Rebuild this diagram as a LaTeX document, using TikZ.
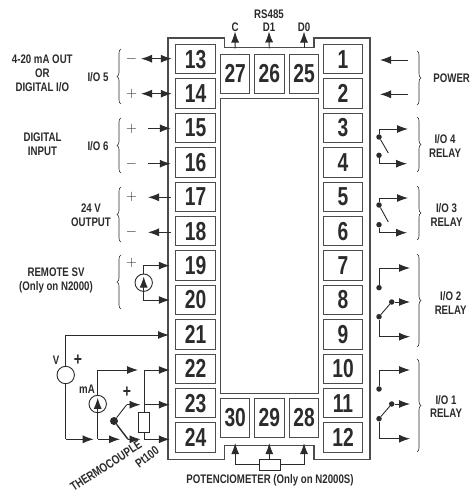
\documentclass[tikz,border=0pt]{standalone}
\usepackage{fontspec}
\setmainfont[FakeStretch=0.78]{Liberation Sans}
\newfontfamily\termfont[FakeStretch=0.74]{Liberation Sans}
\usetikzlibrary{arrows.meta,decorations.pathreplacing,positioning}
\definecolor{inkgray}{gray}{0.17}
\definecolor{casegray}{gray}{0.3}
\tikzset{
termbox/.style={
  rectangle,
  draw=casegray,
  line width=1pt,
  fill=white,
  outer sep=0pt,
  inner sep=0pt,
  minimum width=39.5pt,
  minimum height=29.5pt,
  text=inkgray,
  font=\termfont\bfseries\fontsize{26}{26}\selectfont,
  }
}
\tikzset{
termside/.style={
  termbox,
  minimum width=29.5pt,
  minimum height=39pt,
  }
}
\tikzset{
wire/.style={
  line width=0.9pt,
  draw=inkgray,
  }
}
\tikzset{
wirearrow/.style={
  wire,
  -{Latex[length=11pt,width=8pt]},
  }
}
\tikzset{
twoarrow/.style={
  wire,
  {Latex[length=11pt,width=8pt]}-{Latex[length=11pt,width=8pt]},
  }
}
\tikzset{
mylabel/.style={
  align=center,
  inner sep=0pt,
  text=inkgray,
  font=\bfseries\fontsize{12.4}{13.6}\selectfont,
  }
}
\tikzset{
sign/.style={
  inner sep=0pt,
  text=inkgray,
  font=\fontsize{14.5}{14.5}\selectfont,
  }
}
\tikzset{
dot/.style={
  circle,
  fill=inkgray,
  inner sep=0pt,
  minimum size=5.5pt,
  }
}
\tikzset{
source/.style={
  circle,
  draw=inkgray,
  line width=0.9pt,
  fill=white,
  inner sep=0pt,
  minimum size=17.4pt,
  }
}
\tikzset{
resistor/.style={
  rectangle,
  draw=inkgray,
  line width=0.8pt,
  fill=white,
  inner sep=0pt,
  }
}
\tikzset{
mybrace/.style={
  line width=0.6pt,
  draw=inkgray,
  decorate,
  decoration={brace,amplitude=4pt},
  }
}

\begin{document}
\begin{tikzpicture}[x=1pt,y=-1pt,node distance=4.9pt]
    \useasboundingbox (0,0) rectangle (472,494);

    % outer case
    \draw[casegray, line width=1.1pt] (168,38) -- (224.5,38) -- (224.5,47.5) -- (314,47.5) -- (314,38) -- (370,38)
      -- (370,459.3) -- (314,459.3) -- (314,445.7) -- (224.5,445.7) -- (224.5,459.3) -- (168,459.3) -- cycle;
    \node[rectangle, draw=casegray, line width=1pt, minimum width=98.2pt, minimum height=294.8pt, inner sep=0pt] (window) at (269.6,246) {};

    % left terminals
    \node[termbox] (t13) at (195.5,59.2) {13};
    \node[termbox, below=of t13] (t14) {14};
    \node[termbox, below=of t14] (t15) {15};
    \node[termbox, below=of t15] (t16) {16};
    \node[termbox, below=of t16] (t17) {17};
    \node[termbox, below=of t17] (t18) {18};
    \node[termbox, below=of t18] (t19) {19};
    \node[termbox, below=of t19] (t20) {20};
    \node[termbox, below=of t20] (t21) {21};
    \node[termbox, below=of t21] (t22) {22};
    \node[termbox, below=of t22] (t23) {23};
    \node[termbox, below=of t23] (t24) {24};

    % right terminals
    \node[termbox] (t1) at (343,59.2) {1};
    \node[termbox, below=of t1] (t2) {2};
    \node[termbox, below=of t2] (t3) {3};
    \node[termbox, below=of t3] (t4) {4};
    \node[termbox, below=of t4] (t5) {5};
    \node[termbox, below=of t5] (t6) {6};
    \node[termbox, below=of t6] (t7) {7};
    \node[termbox, below=of t7] (t8) {8};
    \node[termbox, below=of t8] (t9) {9};
    \node[termbox, below=of t9] (t10) {10};
    \node[termbox, below=of t10] (t11) {11};
    \node[termbox, below=of t11] (t12) {12};

    % top and bottom terminals
    \node[termside] (t27) at (235.2,73.8) {27};
    \node[termside] (t26) at (269.3,73.8) {26};
    \node[termside] (t25) at (304,73.8) {25};
    \node[termside] (t30) at (235.2,417.8) {30};
    \node[termside] (t29) at (269.3,417.8) {29};
    \node[termside] (t28) at (304,417.8) {28};

    % serial part
    \node[mylabel] (rs485) at (269,14) {RS485};
    \node[mylabel] (lc) at (235,27) {C};
    \node[mylabel] (ld1) at (269,27) {D1};
    \node[mylabel] (ld0) at (304,27) {D0};
    \draw[wirearrow, shorten <=5.8pt] (t27.north) -- (lc.south);
    \draw[wirearrow, shorten <=5.8pt] (t26.north) -- (ld1.south);
    \draw[wirearrow, shorten <=5.8pt] (t25.north) -- (ld0.south);

    % I/O 5 part
    \node[mylabel] (l45) at (42.3,73.3) {4-20 mA OUT\\OR\\DIGITAL I/O};
    \node[mylabel] (io5) at (98,77) {I/O 5};
    \node[sign] (s13) at (131.5,58.5) {$-$};
    \node[sign] (s14) at (131.5,93.5) {$+$};
    \coordinate (a13) at (141,58.7);
    \coordinate (a14) at (141,93.7);
    \draw[twoarrow, shorten >=4pt] (a13) -- (t13.west |- a13);
    \draw[twoarrow, shorten >=4pt] (a14) -- (t14.west |- a14);

    % I/O 6 part
    \node[mylabel] (l46) at (42.5,144) {DIGITAL\\INPUT};
    \node[mylabel] (io6) at (98,146) {I/O 6};
    \node[sign] (s15) at (131.5,128.5) {$+$};
    \node[sign] (s16) at (131.5,164) {$-$};
    \coordinate (a15) at (148,128.3);
    \coordinate (a16) at (148,163.7);
    \draw[wirearrow, shorten >=5pt] (a15) -- (t15.west |- a15);
    \draw[wirearrow, shorten >=5pt] (a16) -- (t16.west |- a16);

    % output part
    \node[mylabel] (l24) at (91,215) {24 V\\OUTPUT};
    \node[sign] (s17) at (131.5,197) {$+$};
    \node[sign] (s18) at (131.5,232) {$-$};
    \coordinate (a17) at (148,197.3);
    \coordinate (a18) at (148,232.3);
    \draw[wirearrow, shorten <=5pt] (t17.west |- a17) -- (a17);
    \draw[wirearrow, shorten <=5pt] (t18.west |- a18) -- (a18);

    % remote part
    \node[mylabel] (lrem) at (56,280.7) {REMOTE SV\\(Only on N2000)};
    \node[sign] (s19) at (131.5,263) {$+$};
    \node[source] (srem) at (143.7,282.7) {};
    \draw[wirearrow, shorten >=6pt] (srem.north) |- (t19.west);
    \draw[wirearrow, shorten >=6pt] (srem.south) |- (t20.west);
    \draw[wirearrow, shorten >=3pt] (srem.south) -- (srem.north);

    % power part
    \node[mylabel] (lpow) at (451.7,78) {POWER};
    \coordinate (a1) at (408,60);
    \coordinate (b1) at (380,60);
    \coordinate (a2) at (408,94.3);
    \coordinate (b2) at (380,94.3);
    \draw[wirearrow] (a1) -- (b1);
    \draw[wirearrow] (a2) -- (b2);

    % I/O 4 relay
    \node[mylabel] (lio4) at (445,146) {I/O 4\\RELAY};
    \node[dot] (d3) at (379,137) {};
    \node[dot] (d4) at (379,155.3) {};
    \coordinate (a3) at (408,129);
    \coordinate (a4) at (407,163.7);
    \coordinate (k4) at (388.3,153);
    \draw[wirearrow] (d3) |- (a3);
    \draw[wirearrow] (d4) |- (a4);
    \draw[wire] (d3) -- (k4);

    % I/O 3 relay
    \node[mylabel] (lio3) at (446.5,215) {I/O 3\\RELAY};
    \node[dot] (d5) at (379,205) {};
    \node[dot] (d6) at (379,224.7) {};
    \coordinate (a5) at (408,198);
    \coordinate (a6) at (407,232.7);
    \coordinate (k6) at (388.3,222);
    \draw[wirearrow] (d5) |- (a5);
    \draw[wirearrow] (d6) |- (a6);
    \draw[wire] (d5) -- (k6);

    % I/O 2 relay
    \node[mylabel] (lio2) at (450.7,303) {I/O 2\\RELAY};
    \node[dot] (d7) at (379,287.7) {};
    \node[dot] (d8) at (379,316.7) {};
    \node[dot] (d9) at (391.7,302) {};
    \coordinate (a7) at (410,268);
    \coordinate (a8) at (410,302);
    \coordinate (a9) at (410,336.7);
    \draw[wirearrow] (d7) |- (a7);
    \draw[wirearrow] (d9) -- (a8);
    \draw[wirearrow] (d8) |- (a9);
    \draw[wire] (d8) -- (d9);

    % I/O 1 relay
    \node[mylabel] (lio1) at (446,406.7) {I/O 1\\RELAY};
    \node[dot] (d10) at (379,389) {};
    \node[dot] (d11) at (379,418.7) {};
    \node[dot] (d12) at (391.7,404) {};
    \coordinate (a10) at (410,370);
    \coordinate (a11) at (410,404);
    \coordinate (a12) at (410,438.7);
    \draw[wirearrow] (d10) |- (a10);
    \draw[wirearrow] (d12) -- (a11);
    \draw[wirearrow] (d11) |- (a12);
    \draw[wire] (d11) -- (d12);

    % potentiometer part
    \node[mylabel] (lpot) at (270,480.7) {POTENCIOMETER (Only on N2000S)};
    \node[resistor, minimum width=20.7pt, minimum height=10.7pt] (rpot) at (269.6,464.7) {};
    \draw[wirearrow, shorten >=5.8pt] (rpot.west) -| (t30.south);
    \draw[wirearrow, shorten >=5.8pt] (rpot.north -| t29.south) -- (t29.south);
    \draw[wirearrow, shorten >=5.8pt] (rpot.east) -| (t28.south);

    % voltage input
    \node[mylabel] (lv) at (56,360.7) {V};
    \node[mylabel, font=\bfseries\fontsize{18}{18}\selectfont] (pv) at (78,360.7) {+};
    \node[source] (sv) at (65.7,375) {};
    \coordinate (a21) at (169,335);
    \coordinate (vb) at (65.7,439.3);
    \coordinate (ve) at (93.7,439.3);
    \draw[wirearrow] (sv.north) |- (a21);
    \draw[wire] (sv.south) -- (vb);
    \draw[wirearrow] (vb) -- (ve);

    % current input
    \node[mylabel] (lma) at (87,389) {mA};
    \node[source] (sma) at (97.7,404) {};
    \coordinate (mt) at (138,370);
    \coordinate (mb) at (97.7,439.3);
    \coordinate (me) at (120,439.3);
    \draw[wirearrow] (sma.north) |- (mt);
    \draw[wire] (sma.south) -- (mb);
    \draw[wirearrow] (mb) -- (me);
    \draw[wirearrow, shorten >=3pt] (sma.south) -- (sma.north);

    % thermocouple part
    \node[mylabel, font=\bfseries\fontsize{18}{18}\selectfont] (pt) at (127,392.7) {+};
    \node[dot, minimum size=8pt] (tc) at (114,421) {};
    \coordinate (c1) at (126.7,404.7);
    \coordinate (c2) at (140.5,404.7);
    \coordinate (c3) at (128,439.3);
    \coordinate (c4) at (140.5,439.3);
    \draw[wire] (tc) -- (c1);
    \draw[wirearrow] (c1) -- (c2);
    \draw[wire, line width=1.4pt] (tc) -- (c3);
    \draw[wirearrow] (c3) -- (c4);
    \node[mylabel, rotate=33] (lth) at (106,466) {THERMOCOUPLE};

    % Pt100 part
    \node[resistor, minimum width=10.3pt, minimum height=19.7pt] (rpt) at (144,422.2) {};
    \coordinate (p1) at (144,370);
    \coordinate (p2) at (144,404.7);
    \coordinate (p3) at (144,439.3);
    \draw[wire] (p1) -- (rpt.north);
    \draw[wire] (rpt.south) -- (p3);
    \draw[wirearrow, shorten >=6pt] (p1) -- (t22.west |- p1);
    \draw[wirearrow, shorten >=6pt] (p2) -- (t23.west |- p2);
    \draw[wirearrow, shorten >=6pt] (p3) -- (t24.west |- p3);
    \node[mylabel, rotate=37] (lpt) at (147,457) {Pt100};

    % braces
    \draw[mybrace] (121,104) -- (121,49);
    \draw[mybrace] (121,173) -- (121,118);
    \draw[mybrace] (121,242) -- (121,187);
    \draw[mybrace] (121,309) -- (121,255);
    \draw[mybrace] (417,51) -- (417,105);
    \draw[mybrace] (417,117) -- (417,172);
    \draw[mybrace] (417,186) -- (417,240);
    \draw[mybrace] (417,254) -- (417,347);
    \draw[mybrace] (417,359) -- (417,452);
\end{tikzpicture}
\end{document}
